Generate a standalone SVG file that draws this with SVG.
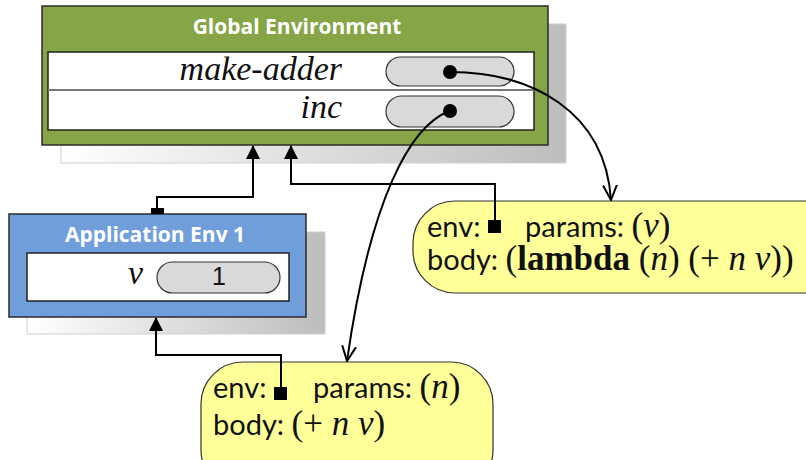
<svg xmlns="http://www.w3.org/2000/svg" width="806" height="460" viewBox="0 0 806 460">
<style>
.frame{stroke:#2b2b2b;stroke-width:1.5}
.title{font-family:"Open Sans","Noto Sans",sans-serif;font-weight:700;font-size:21px;fill:#fff;text-anchor:middle}
.inner{fill:#fff;stroke:#222;stroke-width:1.5}
.pill{fill:#d9d9d9;stroke:#333;stroke-width:1.2}
.var{font-family:"Liberation Serif",serif;font-style:italic;font-size:34px;fill:#111;text-anchor:end}
.num{font-family:"Liberation Sans",sans-serif;font-size:25px;fill:#111;text-anchor:middle}
.proc{fill:#ffff99;stroke:#333;stroke-width:1.2}
.sans{font-family:Lato,"Liberation Sans",sans-serif;font-size:29px;fill:#111}
.ser{font-family:"Liberation Serif",serif;font-size:35px}
.it{font-style:italic}
.bf{font-weight:700}
.wire{fill:none;stroke:#000;stroke-width:2}
</style>
<defs>
<linearGradient id="shade" x1="0" y1="0" x2="1" y2="0">
<stop offset="0" stop-color="#ffffff"/>
<stop offset="1" stop-color="#bdbdbd"/>
</linearGradient>
<marker id="tri" viewBox="0 0 14 14" refX="13" refY="7" markerWidth="14" markerHeight="14" markerUnits="userSpaceOnUse" orient="auto">
<path d="M0,0 L14,7 L0,14 Z" fill="#000"/>
</marker>
<marker id="vee" viewBox="0 0 16 16" refX="15" refY="8" markerWidth="16" markerHeight="16" markerUnits="userSpaceOnUse" orient="auto">
<path d="M0,1 L15,8 L0,15" fill="none" stroke="#000" stroke-width="2"/>
</marker>
</defs>

<g id="global-env">
<rect x="61" y="24" width="505" height="139" fill="url(#shade)" stroke="#d0d0d0"/>
<rect x="42" y="6" width="506" height="139" fill="#85a546" class="frame"/>
<text class="title" x="297" y="34">Global Environment</text>
<rect x="48" y="52" width="486" height="78" class="inner"/>
<line x1="48" y1="90" x2="534" y2="90" stroke="#777" stroke-width="2"/>
<text class="var" x="342" y="80">make-adder</text>
<text class="var" x="342" y="118">inc</text>
<rect x="386" y="57" width="128" height="29" rx="14.5" class="pill"/>
<rect x="386" y="96" width="128" height="31" rx="15.5" class="pill"/>
<circle cx="450" cy="72" r="7" fill="#000"/>
<circle cx="450" cy="111" r="7" fill="#000"/>
</g>

<g id="app-env-1">
<rect x="27" y="232" width="298" height="102" fill="url(#shade)" stroke="#d0d0d0"/>
<rect x="9" y="214" width="297" height="103" fill="#6f9edb" class="frame"/>
<text class="title" x="155" y="242">Application Env 1</text>
<rect x="27" y="253" width="262" height="48" class="inner"/>
<text class="var" x="143" y="284" font-size="33">v</text>
<rect x="157" y="262" width="123" height="31" rx="15.5" class="pill"/>
<text class="num" x="219" y="285">1</text>
</g>

<g id="proc-make-adder">
<rect x="413" y="201" width="440" height="92" rx="42" class="proc"/>
<text class="sans" x="427" y="237">env:</text>
<text class="sans" x="525" y="237">params: <tspan class="ser">(<tspan class="it">v</tspan>)</tspan></text>
<text class="sans" x="427" y="270">body: <tspan class="ser">(<tspan class="bf">lambda</tspan> (<tspan class="it">n</tspan>) (+ <tspan class="it">n</tspan> <tspan class="it">v</tspan>))</tspan></text>
</g>

<g id="proc-inc">
<rect x="201" y="362" width="292" height="130" rx="42" class="proc"/>
<text class="sans" x="213" y="398">env:</text>
<text class="sans" x="313" y="398">params: <tspan class="ser">(<tspan class="it">n</tspan>)</tspan></text>
<text class="sans" x="213" y="435">body: <tspan class="ser">(+ <tspan class="it">n</tspan> <tspan class="it">v</tspan>)</tspan></text>
</g>

<g id="connectors">
<rect x="151" y="208" width="13" height="6" fill="#000"/>
<path class="wire" d="M157,208 V197 H253 V146" marker-end="url(#tri)"/>
<rect x="488" y="220" width="13" height="13" fill="#000"/>
<path class="wire" d="M495,220 V184 H291 V146" marker-end="url(#tri)"/>
<rect x="274" y="387" width="13" height="13" fill="#000"/>
<path class="wire" d="M281,387 V355 H156 V318" marker-end="url(#tri)"/>
<path class="wire" d="M450,72 C530,72 605,110 611,200" marker-end="url(#vee)"/>
<path class="wire" d="M450,111 C410,125 370,200 347,361" marker-end="url(#vee)"/>
</g>
</svg>
